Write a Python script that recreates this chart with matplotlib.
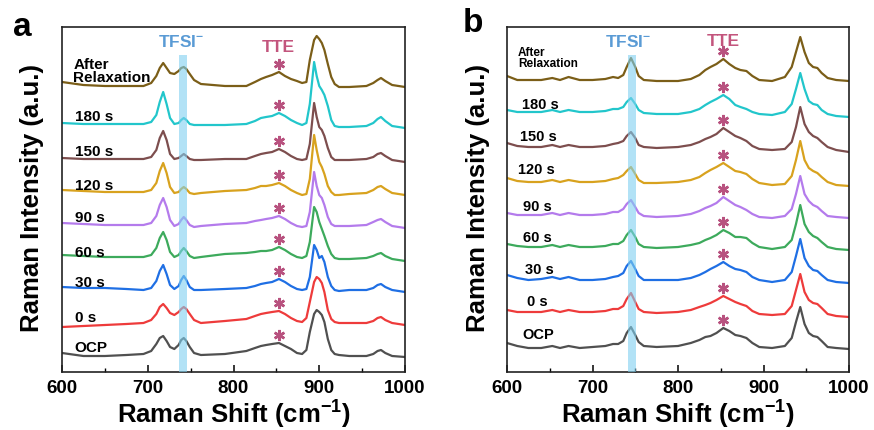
import matplotlib
matplotlib.use("Agg")
import matplotlib.pyplot as plt
from matplotlib.ticker import MultipleLocator

plt.rcParams['font.family'] = ['Liberation Sans', 'DejaVu Sans']
plt.rcParams['font.weight'] = 'bold'
plt.rcParams['mathtext.fontset'] = 'custom'
plt.rcParams['mathtext.rm'] = 'Liberation Sans:bold'
plt.rcParams['mathtext.bf'] = 'Liberation Sans:bold'
plt.rcParams['mathtext.it'] = 'Liberation Sans:bold'
plt.rcParams['mathtext.default'] = 'regular'

# ---------------- data ----------------
labels = ['After\nRelaxation', '180 s', '150 s', '120 s', '90 s', '60 s', '30 s', '0 s', 'OCP']
colors = ['#7B5E18', '#22C6CB', '#7D4E4E', '#D8A21E', '#B47BEC',
          '#3DAA5C', '#1F6FE4', '#EE3B3B', '#505050']

# panel a: Raman shift (cm-1) and stacked intensities (a.u.)
wn_a = [600, 625, 650, 675, 695, 704, 710, 714, 718, 722, 726, 731, 736, 739, 742,
        745, 749, 754, 762, 790, 815, 825, 832, 838, 845, 853, 860, 867, 874, 880,
        885, 889, 894, 897, 900, 903, 906, 910, 914, 918, 923, 935, 955, 963, 968,
        972, 977, 985, 1000]
a_after = [290, 287, 286, 286, 286, 289, 296, 304, 309, 304, 299, 298, 301, 304, 305,
           303, 298, 292, 288, 286, 286, 290, 293, 295, 297, 300, 296, 293, 291, 289,
           290, 312, 332, 336, 333, 329, 322, 308, 295, 288, 285, 285, 286, 289, 292,
           294, 291, 287, 285]
a_180 = [249, 248, 248, 248, 248, 250, 257, 270, 280, 268, 254, 248, 249, 252, 254,
         252, 248, 247, 247, 247, 248, 251, 254, 255, 256, 259, 256, 252, 249, 247,
         249, 268, 310, 296, 286, 282, 277, 266, 252, 246, 245, 245, 246, 249, 253,
         255, 251, 246, 244]
a_150 = [214, 213, 213, 213, 213, 215, 222, 234, 241, 232, 218, 213, 214, 216, 218,
         216, 213, 212, 212, 213, 213, 216, 218, 219, 220, 223, 220, 216, 213, 212,
         213, 228, 269, 255, 245, 242, 236, 224, 215, 212, 212, 212, 213, 215, 218,
         219, 216, 212, 210]
a_120 = [182, 181, 180, 180, 180, 182, 189, 201, 209, 199, 185, 179, 180, 183, 185,
         183, 179, 178, 179, 181, 182, 184, 186, 186, 187, 189, 186, 182, 179, 177,
         178, 193, 237, 222, 210, 205, 198, 186, 180, 177, 177, 178, 179, 182, 185,
         186, 183, 179, 177]
a_90 = [149, 148, 147, 147, 147, 149, 156, 167, 174, 165, 152, 146, 148, 152, 155,
        152, 147, 145, 146, 148, 149, 151, 152, 153, 154, 156, 153, 149, 146, 145,
        146, 160, 200, 186, 177, 174, 167, 155, 148, 146, 146, 146, 147, 150, 152,
        153, 150, 146, 144]
a_60 = [117, 116, 115, 115, 115, 117, 124, 134, 140, 132, 120, 115, 117, 121, 124,
        121, 116, 114, 115, 118, 119, 120, 121, 121, 122, 125, 122, 118, 115, 114,
        116, 130, 165, 160, 150, 143, 136, 126, 118, 114, 113, 113, 114, 116, 118,
        119, 116, 113, 111]
a_30 = [85, 84, 84, 83, 82, 84, 91, 101, 107, 98, 87, 83, 86, 92, 96,
        92, 85, 82, 82, 83, 84, 86, 88, 89, 90, 93, 90, 86, 83, 82,
        83, 95, 127, 122, 114, 116, 110, 95, 86, 82, 81, 82, 82, 84, 87,
        88, 85, 82, 80]
a_0 = [45, 46, 47, 48, 49, 52, 58, 65, 68, 64, 59, 57, 60, 63, 65,
       63, 58, 52, 49, 51, 53, 56, 58, 59, 60, 61, 58, 54, 51, 50,
       54, 70, 90, 95, 93, 89, 80, 62, 53, 50, 49, 49, 49, 51, 54,
       55, 52, 49, 47]
a_ocp = [19, 16, 16, 17, 18, 21, 28, 34, 36, 31, 25, 23, 27, 32, 34,
         31, 25, 19, 17, 18, 21, 24, 26, 27, 28, 29, 26, 23, 19, 18,
         22, 40, 58, 62, 60, 57, 50, 33, 22, 18, 17, 16, 16, 18, 21,
         22, 19, 16, 15]

# panel b
wn_b = [600, 612, 625, 640, 653, 662, 672, 685, 700, 715, 724, 730, 736, 740, 745,
        750, 754, 760, 775, 800, 815, 825, 832, 838, 845, 853, 860, 867, 873, 880,
        887, 895, 910, 925, 933, 938, 943, 948, 953, 958, 963, 968, 975, 985, 1000]
b_after = [296, 292, 292, 292, 294, 292, 295, 292, 292, 293, 295, 294, 297, 305, 314,
           305, 296, 292, 291, 291, 293, 297, 302, 305, 308, 313, 308, 304, 302, 301,
           296, 292, 291, 295, 305, 320, 335, 320, 309, 305, 304, 299, 294, 292, 291]
b_180 = [262, 260, 260, 260, 262, 260, 262, 260, 260, 261, 263, 263, 265, 270, 274,
         268, 262, 259, 258, 258, 260, 263, 267, 270, 273, 277, 273, 267, 265, 263,
         260, 258, 257, 260, 268, 283, 299, 283, 271, 268, 267, 262, 258, 256, 255]
b_150 = [229, 226, 225, 225, 227, 225, 227, 225, 225, 226, 228, 229, 231, 236, 240,
         234, 227, 225, 224, 225, 227, 230, 233, 235, 238, 244, 240, 236, 234, 231,
         226, 223, 222, 223, 230, 245, 265, 248, 240, 236, 234, 230, 225, 222, 220]
b_120 = [194, 191, 190, 190, 192, 190, 192, 190, 190, 191, 193, 194, 197, 201, 205,
         198, 192, 189, 189, 190, 192, 195, 199, 202, 205, 209, 205, 201, 200, 198,
         193, 189, 187, 188, 196, 212, 231, 212, 204, 201, 199, 195, 190, 187, 186]
b_90 = [159, 157, 157, 157, 159, 157, 159, 157, 157, 158, 160, 160, 163, 168, 172,
        165, 159, 156, 155, 156, 158, 161, 164, 166, 169, 175, 171, 167, 165, 162,
        158, 155, 154, 156, 163, 178, 196, 178, 171, 167, 165, 161, 156, 155, 154]
b_60 = [128, 126, 125, 125, 127, 125, 127, 125, 125, 126, 128, 128, 131, 137, 142,
        135, 128, 125, 124, 125, 127, 129, 132, 134, 137, 142, 139, 135, 135, 134,
        129, 125, 123, 125, 132, 148, 167, 148, 140, 136, 134, 130, 125, 123, 122]
b_30 = [97, 94, 92, 93, 95, 93, 95, 92, 92, 93, 95, 96, 99, 106, 111,
        103, 96, 92, 92, 92, 94, 97, 100, 103, 106, 110, 106, 103, 102, 100,
        95, 92, 90, 92, 100, 116, 133, 114, 106, 102, 101, 97, 92, 90, 89]
b_0 = [62, 60, 60, 60, 62, 60, 62, 60, 60, 61, 63, 63, 66, 73, 79,
       70, 63, 60, 59, 60, 62, 65, 67, 69, 72, 76, 73, 70, 68, 66,
       61, 58, 57, 58, 66, 82, 98, 80, 72, 69, 68, 64, 58, 56, 55]
b_ocp = [29, 26, 24, 24, 26, 24, 26, 24, 25, 26, 28, 28, 31, 39, 45,
         37, 30, 26, 25, 26, 29, 32, 35, 36, 39, 44, 41, 37, 36, 34,
         29, 25, 24, 26, 34, 50, 65, 48, 39, 36, 35, 31, 25, 24, 23]

spectra_a = [a_after, a_180, a_150, a_120, a_90, a_60, a_30, a_0, a_ocp]
spectra_b = [b_after, b_180, b_150, b_120, b_90, b_60, b_30, b_0, b_ocp]

tfsi_band_a = (736.5, 746.0)
tfsi_band_b = (741.0, 751.0)
tte_pos = 853

# label anchors (x in cm-1, y in a.u.)
lab_a_x = [613, 615, 615, 615, 615, 615, 615, 615, 615]
lab_a_y = [300.5, 255, 220, 186, 154, 119, 89, 54, 24]
lab_b_x = [613, 617.5, 615, 613, 619, 619, 621, 623, 617.5]
lab_b_y = [313.5, 267, 235, 202, 165, 134, 102, 70, 37]

# ---------------- figure ----------------
W, H = 874, 430
fig = plt.figure(figsize=(W / 100, H / 100), dpi=100)
ax_a = fig.add_axes([62 / W, 1 - 372 / H, 343 / W, 345 / H])
ax_b = fig.add_axes([507 / W, 1 - 372 / H, 342 / W, 345 / H])

band_color = '#7FD0F0'
tfsi_color = '#5A9BD5'
tte_color = '#C3557D'
star_color = '#B8527F'
title_size = 18.5


def draw_panel(ax, wn, spectra, band, lab_x, lab_y, lab_sizes, tfsi_xy, tte_xy):
    for spec, col in zip(spectra, colors):
        ax.plot(wn, spec, color=col, lw=1.6, solid_joinstyle='round', zorder=2)
    i = wn.index(tte_pos)
    for spec in spectra:
        ax.plot([tte_pos], [spec[i] + 8], marker=(6, 2, 0), ms=8, mew=1.8,
                color=star_color, zorder=4, linestyle='none')
    ax.axvspan(band[0], band[1], ymin=0, ymax=317 / 345, color=band_color,
               alpha=0.6, lw=0, zorder=3)
    for txt, x, y, fs in zip(labels, lab_x, lab_y, lab_sizes):
        ax.text(x, y, txt, ha='left', va='center', fontsize=fs,
                fontweight='bold', linespacing=0.95, zorder=5)
    ax.text(tfsi_xy[0], tfsi_xy[1], r'TFSI$^{-}$', color=tfsi_color, fontsize=12.5,
            fontweight='bold', ha='center', va='center', zorder=5)
    ax.text(tte_xy[0], tte_xy[1], 'TTE', color=tte_color, fontsize=12.5,
            fontweight='bold', ha='center', va='center', zorder=5)

    ax.set_xlim(600, 1000)
    ax.set_ylim(0, 345)
    ax.set_yticks([])
    ax.xaxis.set_major_locator(MultipleLocator(100))
    ax.xaxis.set_minor_locator(MultipleLocator(50))
    ax.tick_params(axis='x', which='major', direction='in', length=5, width=1.1,
                   labelsize=13.5, pad=6)
    ax.tick_params(axis='x', which='minor', direction='in', length=3, width=1.0)
    for lab in ax.get_xticklabels():
        lab.set_fontweight('bold')
    for s in ax.spines.values():
        s.set_linewidth(1.2)
        s.set_color('#222222')
    ax.set_xlabel(r'Raman Shift (cm$^{-1}$)', fontsize=title_size, fontweight='bold',
                  labelpad=1)


draw_panel(ax_a, wn_a, spectra_a, tfsi_band_a, lab_a_x, lab_a_y,
           [11] * 9, (739, 330), (852, 325))
draw_panel(ax_b, wn_b, spectra_b, tfsi_band_b, lab_b_x, lab_b_y,
           [8.5] + [10.5] * 8, (741.5, 330), (852.5, 330))

# axis titles and panel letters
fig.text(32 / W, 1 - 198 / H, 'Raman Intensity (a.u.)', rotation=90,
         ha='center', va='center', fontsize=title_size, fontweight='bold')
fig.text(478 / W, 1 - 198 / H, 'Raman Intensity (a.u.)', rotation=90,
         ha='center', va='center', fontsize=title_size, fontweight='bold')
fig.text(22 / W, 1 - 27 / H, 'a', ha='center', va='center', fontsize=24,
         fontweight='bold')
fig.text(473 / W, 1 - 24 / H, 'b', ha='center', va='center', fontsize=24,
         fontweight='bold')

fig.savefig('out.png', dpi=100)
